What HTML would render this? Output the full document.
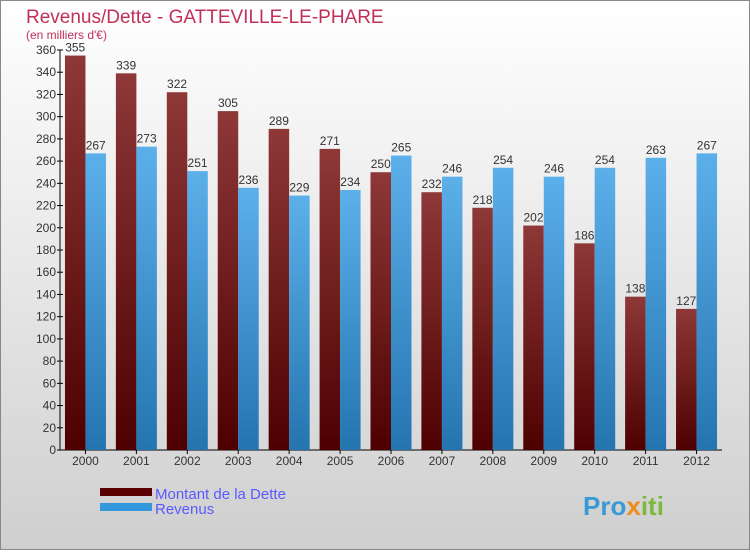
<!DOCTYPE html>
<html><head><meta charset="utf-8"><style>
body{margin:0;width:750px;height:550px;overflow:hidden;font-family:"Liberation Sans",sans-serif}
</style></head><body>
<svg width="750" height="550" xmlns="http://www.w3.org/2000/svg">
<defs>
<linearGradient id="bg" x1="0" y1="0" x2="0" y2="1"><stop offset="0" stop-color="#ffffff"/><stop offset="1" stop-color="#cfcfcf"/></linearGradient>
<linearGradient id="gd" x1="0" y1="0" x2="0" y2="1"><stop offset="0" stop-color="#8e3838"/><stop offset="1" stop-color="#4e0000"/></linearGradient>
<linearGradient id="gr" x1="0" y1="0" x2="0" y2="1"><stop offset="0" stop-color="#5cb0ea"/><stop offset="1" stop-color="#2474b0"/></linearGradient>
</defs>
<rect x="0.5" y="0.5" width="749" height="549" fill="url(#bg)" stroke="#888"/>
<text x="26" y="23" font-size="19" fill="#c0305a">Revenus/Dette - GATTEVILLE-LE-PHARE</text>
<text x="26" y="39" font-size="12" fill="#c0305a">(en milliers d'€)</text>
<g id="axes"></g>
<g id="bars"></g>
<rect x="100" y="488" width="52" height="8" fill="#5a0000"/>
<rect x="100" y="503" width="52" height="8" fill="#3498dc"/>
<text x="155" y="499" font-size="15" fill="#5a5aff">Montant de la Dette</text>
<text x="155" y="514" font-size="15" fill="#5a5aff">Revenus</text>
<text x="583" y="515" font-size="26" font-weight="bold" fill="#3a9ad8">Pro<tspan fill="#f08c1c">x</tspan><tspan fill="#7cb83c">iti</tspan></text>
</svg>
<script>
const years=["2000","2001","2002","2003","2004","2005","2006","2007","2008","2009","2010","2011","2012"];
const dette=[355,339,322,305,289,271,250,232,218,202,186,138,127];
const revenus=[267,273,251,236,229,234,265,246,254,246,254,263,267];
const yTicks=[0,20,40,60,80,100,120,140,160,180,200,220,240,260,280,300,320,340,360];
const NS="http://www.w3.org/2000/svg";
const x0=60,x1=722,y0=450,ymax=360,ytop=50;
const band=(x1-x0)/years.length;
const yS=v=>y0-(v/ymax)*(y0-ytop);
const xC=i=>x0+band*(i+0.5);
function mk(tag,attrs,parent){const e=document.createElementNS(NS,tag);for(const k in attrs)e.setAttribute(k,attrs[k]);parent.appendChild(e);return e;}
const ax=document.getElementById('axes'),bg=document.getElementById('bars');
let l=mk('line',{x1:x0,y1:ytop,x2:x0,y2:y0,stroke:'#000'},ax);


l=mk('line',{x1:x0,y1:y0,x2:x1,y2:y0,stroke:'#000'},ax);


yTicks.forEach(t=>{
 const y=yS(t);
 const tk=mk('line',{x1:x0-3,y1:y,x2:x0+3,y2:y,stroke:'#000'},ax);
 
 
 const tx=mk('text',{x:x0-4,y:y+4,'font-size':12,fill:'#333','text-anchor':'end'},ax);
 tx.textContent=t;
 
 
});
years.forEach((yr,i)=>{
 const c=xC(i);
 const tk=mk('line',{x1:c,y1:y0,x2:c,y2:y0+4,stroke:'#000'},ax);
 
 
 const tx=mk('text',{x:c,y:y0+15,'font-size':12,fill:'#333','text-anchor':'middle'},ax);
 tx.textContent=yr;
 
 
 const bw=20.5;
 const b1=mk('rect',{x:c-bw,y:yS(dette[i]),width:bw,height:y0-yS(dette[i]),fill:'url(#gd)'},bg);
 
 
 const b2=mk('rect',{x:c,y:yS(revenus[i]),width:bw,height:y0-yS(revenus[i]),fill:'url(#gr)'},bg);
 
 
 const v1=mk('text',{x:c-bw/2,y:yS(dette[i])-4,'font-size':12,fill:'#333','text-anchor':'middle'},bg);
 v1.textContent=dette[i];
 
 
 const v2=mk('text',{x:c+bw/2,y:yS(revenus[i])-4,'font-size':12,fill:'#333','text-anchor':'middle'},bg);
 v2.textContent=revenus[i];
 
 
});
</script>
</body></html>
